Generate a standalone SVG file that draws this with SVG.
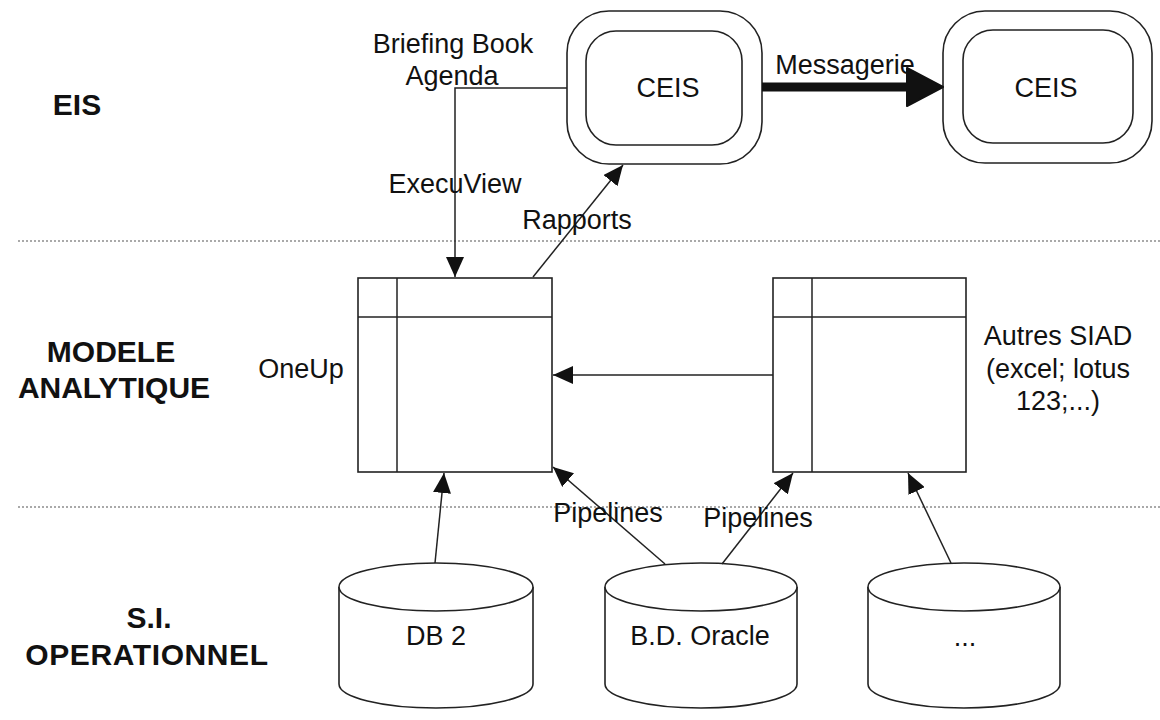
<svg xmlns="http://www.w3.org/2000/svg" width="1160" height="720" viewBox="0 0 1160 720">
<defs>
<style>
.t{font-family:"Liberation Sans",Arial,sans-serif;font-size:27px;fill:#111;text-anchor:middle}
.b{font-family:"Liberation Sans",Arial,sans-serif;font-size:30px;font-weight:bold;fill:#111;text-anchor:middle}
.s{fill:#fff;stroke:#222;stroke-width:1.6}
.c{fill:none;stroke:#222;stroke-width:1.5}
.sep{stroke:#555;stroke-width:1.2;stroke-dasharray:2 2}
</style>
<marker id="ah" markerUnits="userSpaceOnUse" markerWidth="22" markerHeight="18" refX="20" refY="9" orient="auto">
<path d="M0,0 L20,9 L0,18 Z" fill="#111"/>
</marker>
</defs>
<rect width="1160" height="720" fill="#fff"/>
<g id="separators">
<line class="sep" x1="18" y1="241" x2="1160" y2="241"/>
<line class="sep" x1="18" y1="507" x2="1160" y2="507"/>
</g>
<g id="layer-labels">
<text class="b" x="77" y="115">EIS</text>
<text class="b" x="111" y="362">MODELE</text>
<text class="b" x="114" y="398">ANALYTIQUE</text>
<text class="b" x="149" y="628">S.I.</text>
<text class="b" x="147" y="665" letter-spacing="0.6">OPERATIONNEL</text>
</g>
<g id="ceis1">
<rect class="s" x="567" y="11" width="195" height="153" rx="42"/>
<rect class="s" x="586" y="31" width="156" height="114" rx="30"/>
<text class="t" x="668" y="97">CEIS</text>
</g>
<g id="ceis2">
<rect class="s" x="943" y="11" width="209" height="152" rx="42"/>
<rect class="s" x="963" y="30" width="170" height="113" rx="30"/>
<text class="t" x="1046" y="97">CEIS</text>
</g>
<g id="oneup">
<rect class="s" x="358" y="278" width="194" height="194"/>
<line class="c" x1="397" y1="278" x2="397" y2="472"/>
<line class="c" x1="358" y1="317" x2="552" y2="317"/>
<text class="t" x="301" y="378">OneUp</text>
</g>
<g id="autres">
<rect class="s" x="773" y="278" width="193" height="194"/>
<line class="c" x1="812" y1="278" x2="812" y2="472"/>
<line class="c" x1="773" y1="317" x2="966" y2="317"/>
<text class="t" x="1058" y="345">Autres SIAD</text>
<text class="t" x="1058" y="378">(excel; lotus</text>
<text class="t" x="1058" y="410">123;...)</text>
</g>
<g id="db2">
<path class="s" d="M339,587 L339,684 A97,24 0 0 0 533,684 L533,587"/>
<ellipse class="s" cx="436" cy="587" rx="97" ry="24"/>
<text class="t" x="436" y="645">DB 2</text>
</g>
<g id="oracle">
<path class="s" d="M605,587 L605,684 A96,24 0 0 0 797,684 L797,587"/>
<ellipse class="s" cx="701" cy="587" rx="96" ry="24"/>
<text class="t" x="700" y="645">B.D. Oracle</text>
</g>
<g id="other-db">
<path class="s" d="M868,587 L868,684 A96,24 0 0 0 1060,684 L1060,587"/>
<ellipse class="s" cx="964" cy="587" rx="96" ry="24"/>
<text class="t" x="965" y="646">...</text>
</g>
<g id="connectors">
<polyline class="c" points="567,88 455,88 455,277" marker-end="url(#ah)"/>
<line class="c" x1="533" y1="277" x2="623" y2="165" marker-end="url(#ah)"/>
<line x1="762" y1="87" x2="912" y2="87" stroke="#111" stroke-width="9"/>
<path d="M907,68 L943,87 L907,106 Z" fill="#111" stroke="#111" stroke-width="2" stroke-linejoin="round"/>
<line class="c" x1="773" y1="375" x2="553" y2="375" marker-end="url(#ah)"/>
<line class="c" x1="435" y1="563" x2="444" y2="473" marker-end="url(#ah)"/>
<line class="c" x1="665" y1="564" x2="553" y2="467" marker-end="url(#ah)"/>
<line class="c" x1="722" y1="564" x2="793" y2="473" marker-end="url(#ah)"/>
<line class="c" x1="951" y1="563" x2="908" y2="473" marker-end="url(#ah)"/>
<text class="t" x="453" y="53">Briefing Book</text>
<text class="t" x="452" y="85">Agenda</text>
<text class="t" x="455" y="193">ExecuView</text>
<text class="t" x="577" y="229">Rapports</text>
<text class="t" x="845" y="74">Messagerie</text>
<text class="t" x="608" y="522">Pipelines</text>
<text class="t" x="758" y="527">Pipelines</text>
</g>
</svg>
